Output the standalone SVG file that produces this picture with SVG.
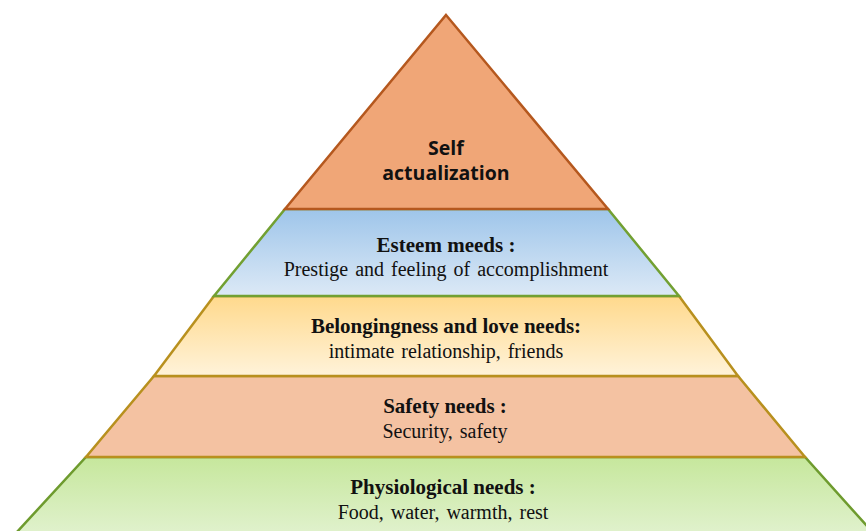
<svg xmlns="http://www.w3.org/2000/svg" width="866" height="531" viewBox="0 0 866 531">
  <defs>
    <linearGradient id="gEsteem" x1="0" y1="0" x2="0" y2="1">
      <stop offset="0" stop-color="#9EC5EA"/>
      <stop offset="1" stop-color="#DCE9F6"/>
    </linearGradient>
    <linearGradient id="gBelong" x1="0" y1="0" x2="0" y2="1">
      <stop offset="0" stop-color="#FFD98C"/>
      <stop offset="1" stop-color="#FFF3DA"/>
    </linearGradient>
    <linearGradient id="gPhysio" x1="0" y1="0" x2="0" y2="1">
      <stop offset="0" stop-color="#C6E79C"/>
      <stop offset="1" stop-color="#E4F3D4"/>
    </linearGradient>
    <style>
      .edge { stroke-width: 2.5; stroke-linejoin: miter; }
      .title { font-family: "Liberation Serif", "Times New Roman", serif; font-weight: bold; font-size: 21px; fill: #111; text-anchor: middle; }
      .sub { font-family: "Liberation Serif", "Times New Roman", serif; font-size: 20px; fill: #111; text-anchor: middle; word-spacing: 2px; }
      .top { font-family: "Open Sans", "Liberation Sans", sans-serif; font-weight: bold; font-size: 19.5px; fill: #111; text-anchor: middle; }
    </style>
  </defs>

  <!-- base level -->
  <g id="physiological">
    <polygon class="edge" points="86,457 805,457 884,545 5,545" fill="url(#gPhysio)" stroke="#6E9B2E"/>
    <text class="title" x="443" y="494">Physiological needs :</text>
    <text class="sub" x="443" y="519">Food, water, warmth, rest</text>
  </g>

  <g id="safety">
    <polygon class="edge" points="154,376 738,376 805,457 86,457" fill="#F4C2A2" stroke="#B8901E"/>
    <text class="title" x="445" y="413">Safety needs :</text>
    <text class="sub" x="445" y="438">Security, safety</text>
  </g>

  <g id="belonging">
    <polygon class="edge" points="214,296 679,296 738,376 154,376" fill="url(#gBelong)" stroke="#B8901E"/>
    <text class="title" x="446" y="333">Belongingness and love needs:</text>
    <text class="sub" x="446" y="358">intimate relationship, friends</text>
  </g>

  <g id="esteem">
    <polygon class="edge" points="285,209 608,209 679,296 214,296" fill="url(#gEsteem)" stroke="#72A032"/>
    <text class="title" x="446" y="252">Esteem meeds :</text>
    <text class="sub" x="446" y="276">Prestige and feeling of accomplishment</text>
  </g>

  <g id="self-actualization">
    <polygon class="edge" points="446,15 608,209 285,209" fill="#F0A677" stroke="#B5581E"/>
    <text class="top" x="446" y="155">Self</text>
    <text class="top" x="446" y="180">actualization</text>
  </g>
</svg>
